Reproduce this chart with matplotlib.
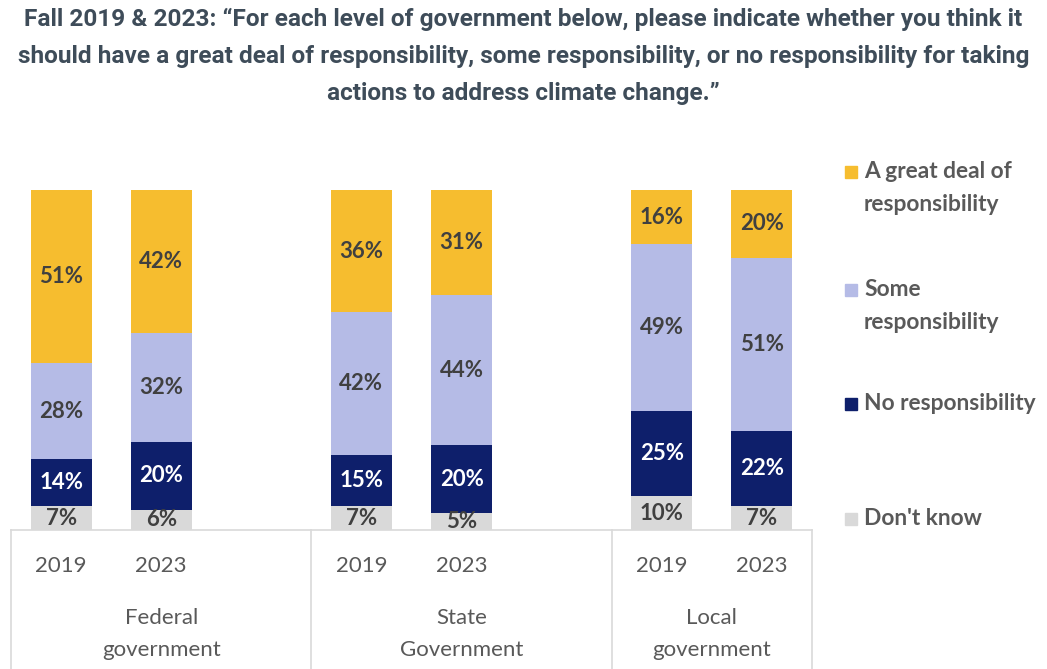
import numpy as np
import matplotlib
matplotlib.use('Agg')
import matplotlib.pyplot as plt
from matplotlib.patches import Rectangle
from matplotlib.lines import Line2D

# ── data ──────────────────────────────────────────────
years   = ['2019', '2023', '2019', '2023', '2019', '2023']
groups  = ['Federal\ngovernment', 'State\nGovernment', 'Local\ngovernment']
series  = ['Don\'t know', 'No responsibility', 'Some\nresponsibility',
           'A great deal of\nresponsibility']
dont_know = [7, 6, 7, 5, 10, 7]
no_resp   = [14, 20, 15, 20, 25, 22]
some_resp = [28, 32, 42, 44, 49, 51]
great     = [51, 42, 36, 31, 16, 20]

COLORS     = ['#D9D9D9', '#0E1F6B', '#B5BBE6', '#F6BD2F']
LBL_COLORS = ['#404040', 'white', '#404040', '#404040']
TITLE_C    = '#3E4C59'
TXT_C      = '#595959'
LINE_C     = '#D9D9D9'

# slot positions: one blank slot after each of the first two groups
pos = np.array([0, 1, 3, 4, 6, 7])
group_span = [(-0.5, 2.5), (2.5, 5.5), (5.5, 7.5)]

W, H = 1047, 669
fig = plt.figure(figsize=(W / 100, H / 100), dpi=100)
ax = fig.add_axes([11 / W, (H - 530) / H, 801 / W, 340 / H])

vals = [dont_know, no_resp, some_resp, great]
bottom = np.zeros(len(pos))
for v, c, lc in zip(vals, COLORS, LBL_COLORS):
    v = np.array(v, dtype=float)
    ax.bar(pos, v, 0.61, bottom=bottom, color=c, linewidth=0)
    for x, b, h in zip(pos, bottom, v):
        ax.text(x, b + h / 2, f'{h:.0f}%', ha='center', va='center',
                fontsize=16, fontweight='bold', color=lc, family='Lato')
    bottom += v

ax.set_xlim(-0.5, 7.5)
ax.set_ylim(0, 100)
ax.axis('off')

# category axis with group brackets
ax.add_line(Line2D([-0.5, 7.5], [0, 0], color=LINE_C, lw=1.2, clip_on=False))
for xv in [-0.5, 2.5, 5.5, 7.5]:
    ax.plot([xv, xv], [0, -0.42], transform=ax.get_xaxis_transform(),
            color=LINE_C, lw=1.2, clip_on=False)
for x, y in zip(pos, years):
    ax.text(x, -0.106, y, transform=ax.get_xaxis_transform(), ha='center',
            va='center', fontsize=16, color=TXT_C, family='Lato')
for (a, b), g in zip(group_span, groups):
    ax.text((a + b) / 2, -0.306, g, transform=ax.get_xaxis_transform(),
            ha='center', va='center', fontsize=16, color=TXT_C, family='Lato',
            linespacing=1.75)

# legend (top to bottom)
leg_y = [172, 290, 404, 519]
for yy, lab, c in zip(leg_y, series[::-1], COLORS[::-1]):
    fig.patches.append(Rectangle((845 / W, (H - yy - 6) / H), 12 / W, 12 / H,
                                 transform=fig.transFigure, color=c))
    fig.text(864 / W, (H - yy + 11) / H, lab, ha='left', va='top',
             fontsize=16.4, fontweight='bold', color=TXT_C, family='Lato',
             linespacing=1.72)

fig.text(0.5, 1 - 8 / H,
         'Fall 2019 & 2023: \u201cFor each level of government below, please indicate whether you think it\n'
         'should have a great deal of responsibility, some responsibility, or no responsibility for taking\n'
         'actions to address climate change.\u201d',
         ha='center', va='top', fontsize=17.6, fontweight='bold', color=TITLE_C,
         family='Roboto', linespacing=1.78)

fig.savefig('out.png', dpi=100)
